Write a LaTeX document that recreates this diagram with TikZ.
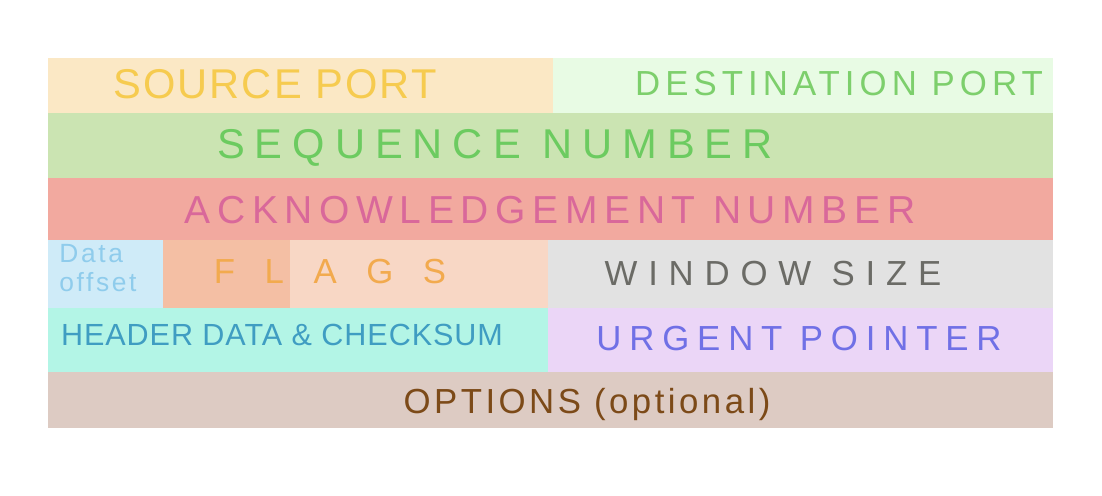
\documentclass[tikz,border=0pt]{standalone}
\usepackage{fontspec}
\setmainfont{Liberation Sans}
\definecolor{srcfill}{HTML}{FBE8C5}
\definecolor{srctext}{HTML}{F6CB4F}
\definecolor{dstfill}{HTML}{E8FBE4}
\definecolor{dsttext}{HTML}{7DCF6C}
\definecolor{seqfill}{HTML}{CBE4B2}
\definecolor{seqtext}{HTML}{6CCB60}
\definecolor{ackfill}{HTML}{F2A99F}
\definecolor{acktext}{HTML}{D9689A}
\definecolor{offfill}{HTML}{CFEBF8}
\definecolor{offtext}{HTML}{8FCCEC}
\definecolor{flagfilla}{HTML}{F4BFA4}
\definecolor{flagfillb}{HTML}{F8D7C5}
\definecolor{flagtext}{HTML}{F2AA4E}
\definecolor{winfill}{HTML}{E2E2E2}
\definecolor{wintext}{HTML}{6B6B66}
\definecolor{hdrfill}{HTML}{B3F5E6}
\definecolor{hdrtext}{HTML}{3F9DC2}
\definecolor{urgfill}{HTML}{EBD6F7}
\definecolor{urgtext}{HTML}{7070E6}
\definecolor{optfill}{HTML}{DDCBC3}
\definecolor{opttext}{HTML}{7C4A18}
\usepackage{tikz}
\newcommand{\handfont}[2]{\fontsize{#1}{#1}\selectfont\addfontfeatures{LetterSpace=#2}}

\begin{document}
\begin{tikzpicture}[x=0.02cm, y=-0.02cm,
    field/.style={draw=none},
    fieldlabel/.style={inner sep=0pt, anchor=center}]
    \fill[white] (0,0) rectangle (1102,496);
    % --- Ports ---
    \fill[srcfill] (48,58) rectangle (553,113);
    \fill[dstfill] (553,58) rectangle (1053,113);
    \node[fieldlabel, font=\handfont{23.7}{5}, color=srctext] (srcport) at (275,84) {SOURCE PORT};
    \node[fieldlabel, font=\handfont{19.8}{14.5}, color=dsttext] (dstport) at (839,84) {DESTINATION PORT};
    % --- Sequence / acknowledgement ---
    \fill[seqfill] (48,113) rectangle (1053,178);
    \fill[ackfill] (48,178) rectangle (1053,240);
    \node[fieldlabel, font=\handfont{23.7}{24}, color=seqtext] (seqnum) at (495,148) {SEQUENCE NUMBER};
    \node[fieldlabel, font=\handfont{22.2}{17}, color=acktext] (acknum) at (550,210) {ACKNOWLEDGEMENT NUMBER};
    % --- Offset, flags, window ---
    \fill[offfill] (48,240) rectangle (163,308);
    \fill[flagfilla] (163,240) rectangle (290,308);
    \fill[flagfillb] (290,240) rectangle (548,308);
    \fill[winfill] (548,240) rectangle (1053,308);
    \node[fieldlabel, align=left, font=\handfont{15}{10}, color=offtext] (offset) at (98,268) {Data\\[2pt]offset};
    \node[fieldlabel, font=\handfont{19.8}{85}, color=flagtext] (flags) at (330,272) {FLAGS};
    \node[fieldlabel, font=\handfont{19.8}{31}, color=wintext] (window) at (773,274) {WINDOW SIZE};
    % --- Checksum / urgent ---
    \fill[hdrfill] (48,308) rectangle (548,372);
    \fill[urgfill] (548,308) rectangle (1053,372);
    \node[fieldlabel, font=\handfont{17.4}{3}, color=hdrtext] (checksum) at (282,335) {HEADER DATA \& CHECKSUM};
    \node[fieldlabel, font=\handfont{19.8}{22.5}, color=urgtext] (urgent) at (799,339) {URGENT POINTER};
    % --- Options ---
    \fill[optfill] (48,372) rectangle (1053,428);
    \node[fieldlabel, font=\handfont{19.8}{10}, color=opttext] (options) at (587,405) {OPTIONS (optional)};
\end{tikzpicture}
\end{document}
